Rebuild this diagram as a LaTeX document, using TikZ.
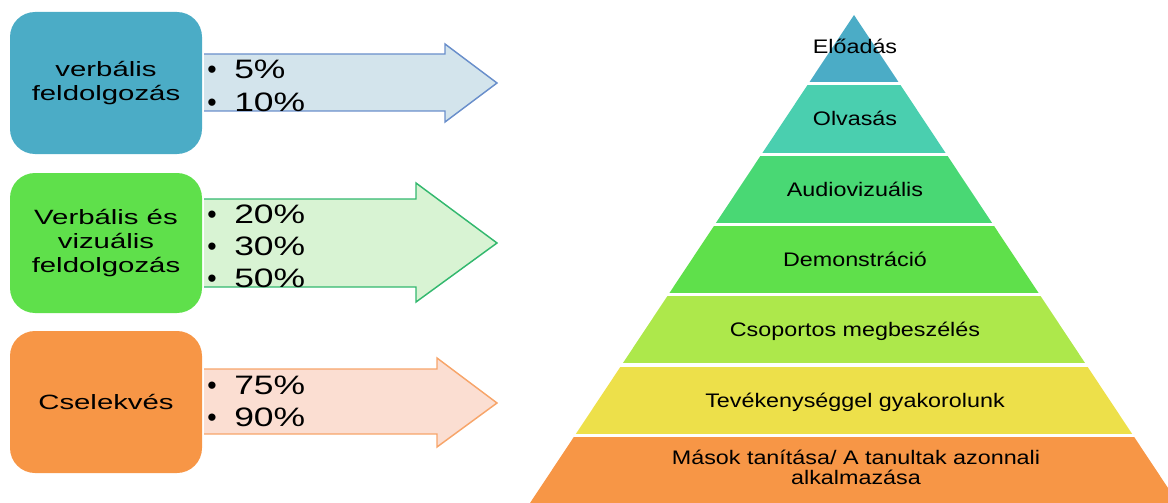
\documentclass[tikz,border=0pt]{standalone}
\usepackage{fontspec}
\setmainfont{Liberation Sans}
\newfontfamily\lblfont[FakeStretch=1.42]{Liberation Sans}
\newfontfamily\pctfont[FakeStretch=1.33]{Liberation Sans}
\newfontfamily\pyrfont[FakeStretch=1.19]{Liberation Sans}
\newfontfamily\plainsans{Liberation Sans}
\definecolor{cteal}{HTML}{4BACC6}
\definecolor{cturq}{HTML}{4ACFAF}
\definecolor{cgreenb}{HTML}{49D874}
\definecolor{cgreen}{HTML}{5FE04B}
\definecolor{clime}{HTML}{ADE84B}
\definecolor{cyellow}{HTML}{EDE04A}
\definecolor{corange}{HTML}{F79646}
\definecolor{afillA}{HTML}{D3E4EC}
\definecolor{alineA}{HTML}{6A8FCB}
\definecolor{afillB}{HTML}{D8F3D3}
\definecolor{alineB}{HTML}{33B86E}
\definecolor{afillC}{HTML}{FBDED2}
\definecolor{alineC}{HTML}{F7A56A}
\begin{document}
\begin{tikzpicture}[x=0.75pt,y=-0.75pt,
  box/.style={rounded corners=18.75pt, minimum width=144pt, inner sep=0pt,
    align=center, font=\lblfont\fontsize{15.5}{18}\selectfont},
  pct/.style={anchor=base west, inner sep=0pt, font=\pctfont\fontsize{20}{24}\selectfont},
  bul/.style={anchor=base, inner sep=0pt, font=\plainsans\fontsize{20}{24}\selectfont},
  lay/.style={anchor=base, inner sep=0pt, align=center,
    font=\pyrfont\fontsize{14.7}{15.5}\selectfont},
  arrline/.style={line width=1.1pt, line join=miter}]
\useasboundingbox (0,0) rectangle (1168,503);

% ---- arrows ----
\fill[afillA] (204,54) -- (445,54) -- (445,44) -- (497,83) -- (445,122) -- (445,111) -- (204,111) -- cycle;
\draw[alineA, arrline] (204,54) -- (445,54) -- (445,44) -- (497,83) -- (445,122) -- (445,111) -- (204,111);
\fill[afillB] (204,199) -- (416,199) -- (416,183) -- (497,243) -- (416,302) -- (416,287) -- (204,287) -- cycle;
\draw[alineB, arrline] (204,199) -- (416,199) -- (416,183) -- (497,243) -- (416,302) -- (416,287) -- (204,287);
\fill[afillC] (204,369) -- (437,369) -- (437,358) -- (497,403) -- (437,447) -- (437,434) -- (204,434) -- cycle;
\draw[alineC, arrline] (204,369) -- (437,369) -- (437,358) -- (497,403) -- (437,447) -- (437,434) -- (204,434);

% ---- boxes ----
\node[box, fill=cteal, minimum height=106.5pt] (b1) at (106,83) {verbális\\feldolgozás};
\node[box, fill=cgreen, minimum height=105pt] (b2) at (106,243) {Verbális és\\vizuális\\feldolgozás};
\node[box, fill=corange, minimum height=106.5pt] (b3) at (106,402) {Cselekvés};

% ---- bullets & percentages ----
\node[bul] (u1) at (212,79) {•};
\node[pct] (p1) at (234,79) {5\%};
\node[bul] (u2) at (212,111.5) {•};
\node[pct] (p2) at (234,111.5) {10\%};
\node[bul] (u3) at (212,223) {•};
\node[pct] (p3) at (234,223) {20\%};
\node[bul] (u4) at (212,255) {•};
\node[pct] (p4) at (234,255) {30\%};
\node[bul] (u5) at (212,287) {•};
\node[pct] (p5) at (234,287) {50\%};
\node[bul] (u6) at (212,394) {•};
\node[pct] (p6) at (234,394) {75\%};
\node[bul] (u7) at (212,426) {•};
\node[pct] (p7) at (234,426) {90\%};

% ---- pyramid ----
\begin{scope}
\clip (854,15) -- (530,503) -- (1178,503) -- cycle;
\fill[cteal]   (500,10)    rectangle (1200,82);
\fill[cturq]   (500,85)    rectangle (1200,152.5);
\fill[cgreenb] (500,155.5) rectangle (1200,222.7);
\fill[cgreen]  (500,225.7) rectangle (1200,292.8);
\fill[clime]   (500,295.6) rectangle (1200,363.4);
\fill[cyellow] (500,366.5) rectangle (1200,434);
\fill[corange] (500,436.8) rectangle (1200,510);
\end{scope}

\node[lay] (t1) at (855,54) {Előadás};
\node[lay] (t2) at (855,125.5) {Olvasás};
\node[lay] (t3) at (855,196) {Audiovizuális};
\node[lay] (t4) at (855,266.3) {Demonstráció};
\node[lay] (t5) at (855,336.5) {Csoportos megbeszélés};
\node[lay] (t6) at (855,407) {Tevékenységgel gyakorolunk};
\node[lay, anchor=center] (t7) at (856,467.5) {Mások tanítása/ A tanultak azonnali\\alkalmazása};
\end{tikzpicture}
\end{document}
